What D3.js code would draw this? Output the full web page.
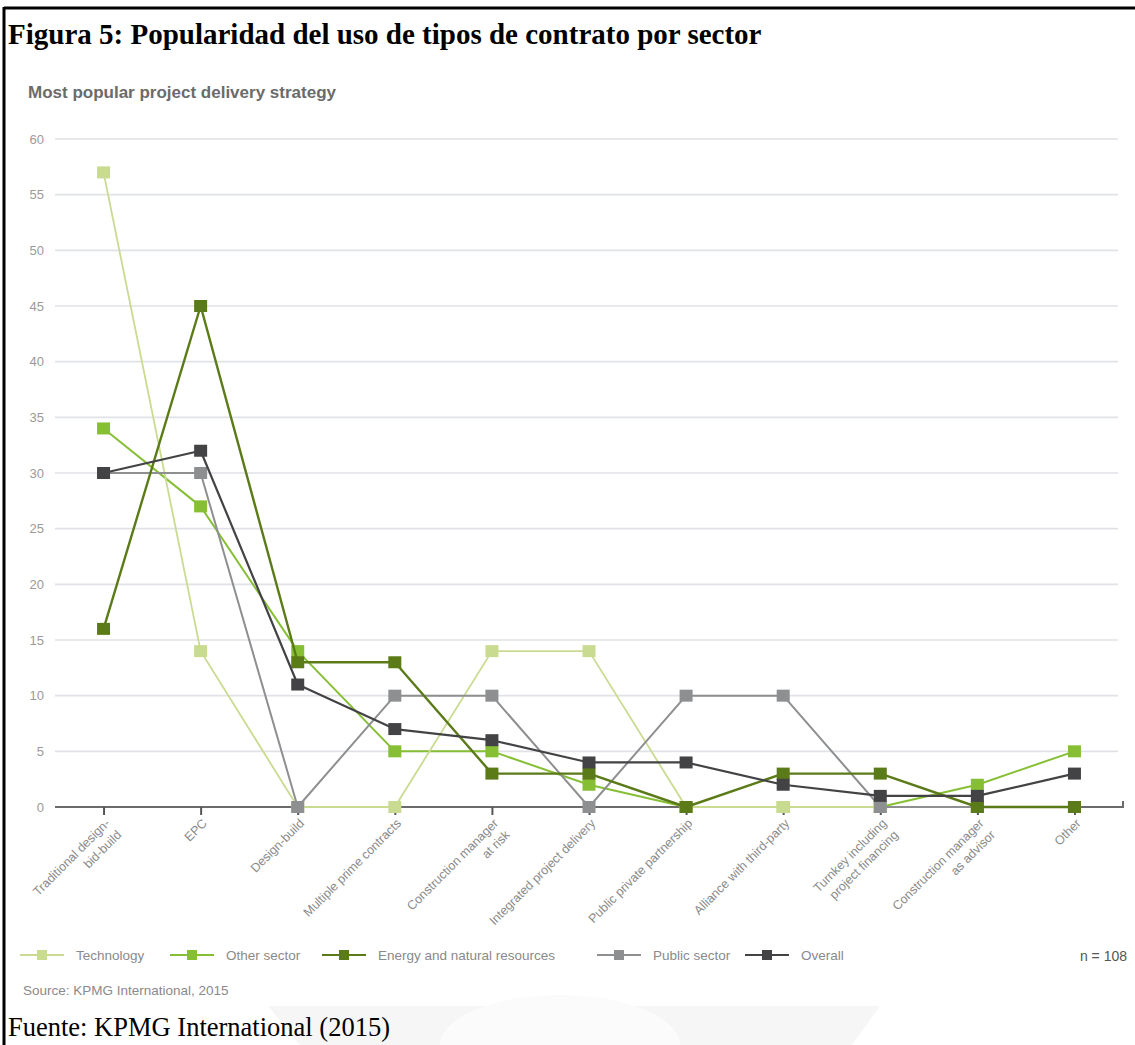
<!DOCTYPE html>
<html>
<head>
<meta charset="utf-8">
<script src="https://cdn.jsdelivr.net/npm/d3@7"></script>
<style>
  html, body { margin: 0; padding: 0; background: #fff; }
  svg { display: block; }
  .narrow { font-family: "Liberation Sans Narrow", "Arial Narrow", "Liberation Sans", sans-serif; font-stretch: condensed; }
</style>
</head>
<body>
<svg id="chart" width="1135" height="1045"></svg>
<script>
// Project delivery strategies (x categories)
const categories = [
  "Traditional design-|bid-build",
  "EPC",
  "Design-build",
  "Multiple prime contracts",
  "Construction manager|at risk",
  "Integrated project delivery",
  "Public private partnership",
  "Alliance with third-party",
  "Turnkey including|project financing",
  "Construction manager|as advisor",
  "Other"
];

// Share of respondents per sector (%)
const technology   = [57, 14, 0, 0, 14, 14, 0, 0, 0, 0, 0];
const otherSector  = [34, 27, 14, 5, 5, 2, 0, 0, 0, 2, 5];
const energy       = [16, 45, 13, 13, 3, 3, 0, 3, 3, 0, 0];
const publicSector = [30, 30, 0, 10, 10, 0, 10, 10, 0, 0, 0];
const overall      = [30, 32, 11, 7, 6, 4, 4, 2, 1, 1, 3];

const seriesNames = ["Technology", "Other sector", "Energy and natural resources", "Public sector", "Overall"];
const yTicks = [0, 5, 10, 15, 20, 25, 30, 35, 40, 45, 50, 55, 60];
const sampleSize = "n = 108";

const series = [
  { name: seriesNames[0], values: technology,   color: "#c9db90", width: 1.8 },
  { name: seriesNames[1], values: otherSector,  color: "#86bf34", width: 2 },
  { name: seriesNames[2], values: energy,       color: "#5b7a18", width: 2.4 },
  { name: seriesNames[3], values: publicSector, color: "#8e8f91", width: 2 },
  { name: seriesNames[4], values: overall,      color: "#434345", width: 2.2 }
];
// stacking order of the lines (bottom to top)
const drawOrder = [1, 0, 3, 2, 4];

const svg = d3.select("#chart");

// faint background emblem behind the caption line
svg.append("path").attr("d", "M268,1006 L880,1006 L852,1045 L300,1045 Z").attr("fill", "#f6f6f6");
svg.append("path").attr("d", "M440,1045 A120,50 0 0 1 680,1045 Z").attr("fill", "#fbfbfb");

// frame
svg.append("line").attr("x1", 4).attr("x2", 1135).attr("y1", 8).attr("y2", 8)
  .attr("stroke", "#000").attr("stroke-width", 3);
svg.append("line").attr("x1", 4).attr("x2", 4).attr("y1", 7).attr("y2", 1045)
  .attr("stroke", "#000").attr("stroke-width", 3);

// figure caption
svg.append("text").attr("x", 8).attr("y", 44)
  .attr("font-family", "'Liberation Serif', 'Times New Roman', serif")
  .attr("font-weight", "bold").attr("font-size", 29).attr("fill", "#000")
  .text("Figura 5: Popularidad del uso de tipos de contrato por sector");

svg.append("text").attr("x", 28).attr("y", 98)
  .attr("font-family", "'Liberation Sans', Arial, sans-serif")
  .attr("font-weight", "bold").attr("font-size", 17).attr("fill", "#6b6b6b")
  .text("Most popular project delivery strategy");

// scales
const x = d3.scalePoint().domain(categories).range([55, 1123]).padding(0.5);
const y = d3.scaleLinear().domain([0, 60]).range([807, 139]);

// gridlines
svg.append("g").selectAll("line").data(yTicks.filter(d => d > 0)).join("line")
  .attr("x1", 55).attr("x2", 1118)
  .attr("y1", d => y(d)).attr("y2", d => y(d))
  .attr("stroke", "#e0e2e6").attr("stroke-width", 1.6);

// y axis labels
const yAxis = svg.append("g").attr("transform", "translate(46,0)")
  .call(d3.axisLeft(y).tickValues(yTicks).tickSize(0).tickPadding(2));
yAxis.select(".domain").remove();
yAxis.selectAll("text").attr("class", "narrow").attr("font-size", 13).attr("fill", "#9a9a9a");

// x axis baseline with category ticks
const xAxis = svg.append("g").attr("transform", `translate(0,${y(0)})`)
  .call(d3.axisBottom(x).tickSize(8).tickFormat(""));
xAxis.select(".domain").attr("d", "M55,0H1123V-6").attr("stroke", "#6b6b6b").attr("stroke-width", 2).attr("fill", "none");
xAxis.selectAll(".tick line").attr("stroke", "#555").attr("stroke-width", 2);

// rotated category labels
const labels = svg.append("g").selectAll("text").data(categories).join("text")
  .attr("class", "narrow")
  .attr("transform", d => `translate(${x(d) + 4},${y(0) + 14}) rotate(-45)`)
  .attr("text-anchor", "end").attr("font-size", 12.5).attr("fill", "#8a8a8a");
labels.each(function(d) {
  const parts = d.split("|");
  const t = d3.select(this);
  parts.forEach((p, i) => {
    t.append("tspan").attr("x", 0).attr("dy", i === 0 ? "0.35em" : "1.3em").text(p);
  });
});

// lines and markers
const line = d3.line().x((d, i) => x(categories[i])).y(d => y(d));
drawOrder.forEach(k => {
  const s = series[k];
  const g = svg.append("g");
  g.append("path").datum(s.values).attr("d", line)
    .attr("fill", "none").attr("stroke", s.color).attr("stroke-width", s.width)
    .attr("stroke-linejoin", "round");
  g.selectAll("rect").data(s.values).join("rect")
    .attr("x", (d, i) => x(categories[i]) - 6.5).attr("y", d => y(d) - 6)
    .attr("width", 13).attr("height", 12).attr("fill", s.color);
});

// legend
const legendX = [20, 170, 322, 597, 745];
const legend = svg.append("g").attr("transform", "translate(0,955)");
series.forEach((s, i) => {
  const g = legend.append("g").attr("transform", `translate(${legendX[i]},0)`);
  g.append("line").attr("x1", 0).attr("x2", 44).attr("y1", 0).attr("y2", 0)
    .attr("stroke", s.color).attr("stroke-width", 2);
  g.append("rect").attr("x", 17).attr("y", -5).attr("width", 10).attr("height", 10).attr("fill", s.color);
  g.append("text").attr("class", "narrow").attr("x", 56).attr("y", 4.5)
    .attr("font-size", 13.5).attr("fill", "#8a8a8a").text(s.name);
});
legend.append("text").attr("class", "narrow").attr("x", 1127).attr("y", 5.5)
  .attr("text-anchor", "end").attr("font-size", 14).attr("fill", "#555").text(sampleSize);

svg.append("text").attr("x", 23).attr("y", 995)
  .attr("font-family", "'Liberation Sans', Arial, sans-serif")
  .attr("font-size", 13.5).attr("fill", "#8a8a8a")
  .text("Source: KPMG International, 2015");

svg.append("text").attr("x", 8).attr("y", 1036)
  .attr("font-family", "'Liberation Serif', 'Times New Roman', serif")
  .attr("font-size", 26.5).attr("fill", "#000")
  .text("Fuente: KPMG International (2015)");
</script>
</body>
</html>
